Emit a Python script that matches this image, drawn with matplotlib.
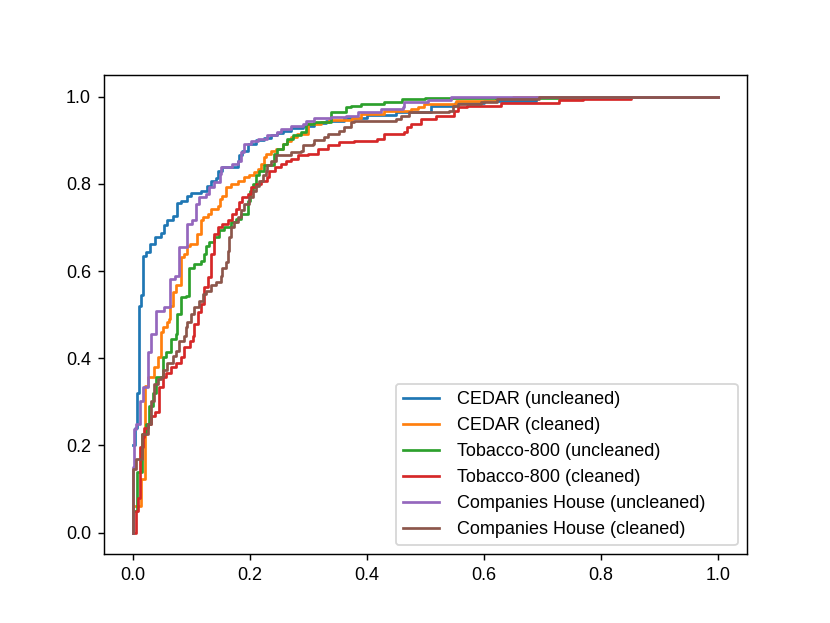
import numpy as np
import matplotlib.pyplot as plt

plt.rcParams['font.family'] = ['Liberation Sans', 'DejaVu Sans']

# ROC curves (fpr, tpr at each step)
cedar_unc_fpr = [0.0, 0.003, 0.007, 0.010, 0.013, 0.017, 0.022, 0.029, 0.037, 0.048, 0.053, 0.059,
                 0.068, 0.075, 0.082, 0.092, 0.099, 0.116, 0.126, 0.133, 0.142, 0.145, 0.152, 0.179,
                 0.181, 0.187, 0.196, 0.210, 0.224, 0.236, 0.247, 0.256, 0.270, 0.29, 0.31, 0.33,
                 0.36, 0.40, 0.45, 0.51, 0.55, 0.60, 0.69, 1.0]
cedar_unc_tpr = [0.20, 0.24, 0.32, 0.52, 0.545, 0.635, 0.643, 0.663, 0.677, 0.688, 0.706, 0.716,
                 0.727, 0.755, 0.761, 0.773, 0.780, 0.784, 0.796, 0.807, 0.814, 0.830, 0.838, 0.853,
                 0.865, 0.876, 0.892, 0.901, 0.906, 0.911, 0.916, 0.922, 0.927, 0.933, 0.940, 0.945,
                 0.950, 0.958, 0.965, 0.979, 0.985, 0.99, 1.0, 1.0]

cedar_cln_fpr = [0.0, 0.0, 0.014, 0.021, 0.025, 0.036, 0.043, 0.048, 0.052, 0.058, 0.061, 0.064,
                 0.068, 0.074, 0.082, 0.088, 0.093, 0.098, 0.109, 0.116, 0.119, 0.128, 0.134, 0.145,
                 0.148, 0.153, 0.159, 0.168, 0.179, 0.190, 0.199, 0.207, 0.213, 0.219, 0.224, 0.227,
                 0.236, 0.245, 0.256, 0.264, 0.270, 0.281, 0.300, 0.321, 0.335, 0.375, 0.390, 0.430,
                 0.475, 0.487, 0.498, 0.552, 0.62, 0.65, 1.0]
cedar_cln_tpr = [0.0, 0.06, 0.123, 0.337, 0.356, 0.379, 0.402, 0.459, 0.471, 0.482, 0.490, 0.520,
                 0.551, 0.567, 0.631, 0.640, 0.658, 0.663, 0.686, 0.716, 0.723, 0.731, 0.742, 0.750,
                 0.765, 0.773, 0.792, 0.800, 0.807, 0.815, 0.819, 0.826, 0.834, 0.846, 0.861, 0.868,
                 0.876, 0.880, 0.891, 0.899, 0.907, 0.915, 0.937, 0.941, 0.947, 0.950, 0.960, 0.968,
                 0.972, 0.977, 0.982, 0.989, 0.997, 1.0, 1.0]

tob_unc_fpr = [0.0, 0.0, 0.007, 0.016, 0.022, 0.028, 0.034, 0.040, 0.051, 0.056, 0.065, 0.073,
               0.076, 0.082, 0.090, 0.095, 0.105, 0.116, 0.121, 0.125, 0.130, 0.139, 0.147, 0.156,
               0.168, 0.176, 0.185, 0.196, 0.200, 0.205, 0.210, 0.215, 0.224, 0.241, 0.247, 0.256,
               0.264, 0.273, 0.287, 0.296, 0.309, 0.339, 0.364, 0.373, 0.390, 0.429, 0.46, 0.50,
               0.77, 1.0]
tob_unc_tpr = [0.0, 0.05, 0.14, 0.227, 0.25, 0.29, 0.32, 0.356, 0.402, 0.414, 0.444, 0.456,
               0.502, 0.540, 0.543, 0.608, 0.616, 0.624, 0.640, 0.658, 0.666, 0.677, 0.693, 0.700,
               0.712, 0.720, 0.731, 0.761, 0.784, 0.800, 0.819, 0.830, 0.842, 0.869, 0.880, 0.892,
               0.903, 0.911, 0.918, 0.937, 0.941, 0.964, 0.975, 0.979, 0.982, 0.987, 0.995, 0.997,
               1.0, 1.0]

tob_cln_fpr = [0.0, 0.005, 0.009, 0.012, 0.017, 0.019, 0.025, 0.031, 0.037, 0.045, 0.051, 0.056,
               0.065, 0.073, 0.082, 0.088, 0.097, 0.102, 0.105, 0.111, 0.116, 0.122, 0.128, 0.133,
               0.134, 0.139, 0.145, 0.153, 0.162, 0.170, 0.176, 0.182, 0.187, 0.196, 0.202, 0.210,
               0.219, 0.230, 0.233, 0.242, 0.253, 0.262, 0.270, 0.282, 0.300, 0.316, 0.333, 0.353,
               0.378, 0.418, 0.430, 0.464, 0.468, 0.475, 0.492, 0.518, 0.549, 0.555, 0.572, 0.629,
               0.728, 0.769, 0.851, 1.0]
tob_cln_tpr = [0.0, 0.05, 0.08, 0.196, 0.219, 0.241, 0.25, 0.268, 0.276, 0.333, 0.356, 0.367,
               0.379, 0.39, 0.402, 0.425, 0.44, 0.452, 0.479, 0.505, 0.524, 0.563, 0.586, 0.616,
               0.639, 0.685, 0.70, 0.708, 0.716, 0.731, 0.743, 0.758, 0.769, 0.777, 0.792, 0.800,
               0.807, 0.815, 0.830, 0.838, 0.846, 0.853, 0.857, 0.865, 0.869, 0.880, 0.888, 0.895,
               0.899, 0.903, 0.915, 0.918, 0.930, 0.937, 0.949, 0.956, 0.968, 0.975, 0.979, 0.985,
               0.991, 0.995, 1.0, 1.0]

ch_unc_fpr = [0.0, 0.0, 0.001, 0.005, 0.012, 0.017, 0.025, 0.031, 0.039, 0.053, 0.063, 0.064,
              0.071, 0.079, 0.093, 0.101, 0.108, 0.113, 0.125, 0.130, 0.139, 0.148, 0.150, 0.170,
              0.179, 0.185, 0.190, 0.202, 0.213, 0.230, 0.247, 0.253, 0.270, 0.290, 0.296, 0.310,
              0.339, 0.364, 0.384, 0.424, 0.461, 0.464, 0.504, 0.544, 1.0]
ch_unc_tpr = [0.0, 0.15, 0.238, 0.25, 0.303, 0.333, 0.414, 0.456, 0.509, 0.517, 0.528, 0.582,
              0.589, 0.654, 0.708, 0.716, 0.753, 0.769, 0.777, 0.792, 0.804, 0.823, 0.838, 0.846,
              0.853, 0.872, 0.891, 0.899, 0.903, 0.911, 0.918, 0.926, 0.933, 0.937, 0.945, 0.951,
              0.953, 0.956, 0.964, 0.972, 0.977, 0.987, 0.991, 1.0, 1.0]

ch_cln_fpr = [0.0, 0.0, 0.005, 0.016, 0.025, 0.031, 0.036, 0.042, 0.048, 0.051, 0.059, 0.068,
              0.073, 0.079, 0.088, 0.091, 0.093, 0.099, 0.105, 0.113, 0.119, 0.125, 0.133, 0.142,
              0.150, 0.153, 0.159, 0.162, 0.165, 0.168, 0.173, 0.179, 0.185, 0.190, 0.199, 0.205,
              0.210, 0.216, 0.222, 0.227, 0.230, 0.236, 0.245, 0.27, 0.287, 0.290, 0.307, 0.310,
              0.327, 0.333, 0.353, 0.361, 0.373, 0.378, 0.450, 0.458, 0.472, 0.541, 0.547, 0.555,
              0.595, 0.623, 0.694, 1.0]
ch_cln_tpr = [0.0, 0.146, 0.169, 0.226, 0.249, 0.303, 0.341, 0.353, 0.357, 0.372, 0.39, 0.406,
              0.417, 0.44, 0.452, 0.471, 0.482, 0.502, 0.517, 0.532, 0.547, 0.555, 0.567, 0.574,
              0.589, 0.608, 0.62, 0.647, 0.677, 0.70, 0.712, 0.723, 0.739, 0.754, 0.769, 0.784,
              0.796, 0.807, 0.819, 0.83, 0.842, 0.853, 0.865, 0.873, 0.876, 0.888, 0.891, 0.901,
              0.907, 0.915, 0.922, 0.930, 0.941, 0.945, 0.949, 0.956, 0.964, 0.968, 0.979, 0.983,
              0.987, 0.995, 1.0, 1.0]

labels = ['CEDAR (uncleaned)', 'CEDAR (cleaned)', 'Tobacco-800 (uncleaned)',
          'Tobacco-800 (cleaned)', 'Companies House (uncleaned)', 'Companies House (cleaned)']
curves = [(cedar_unc_fpr, cedar_unc_tpr), (cedar_cln_fpr, cedar_cln_tpr),
          (tob_unc_fpr, tob_unc_tpr), (tob_cln_fpr, tob_cln_tpr),
          (ch_unc_fpr, ch_unc_tpr), (ch_cln_fpr, ch_cln_tpr)]

fig, ax = plt.subplots(figsize=(830 / 130, 623 / 130), dpi=130)

for (fpr, tpr), label in zip(curves, labels):
    ax.step(np.array(fpr), np.array(tpr), where='post', label=label)

# widen the legend box to the reference's width
ax.legend(loc='lower right', bbox_to_anchor=(0.44, 0.0, 0.56, 0.5), mode='expand',
          handletextpad=1.0)
fig.savefig('out.png', dpi=130)
